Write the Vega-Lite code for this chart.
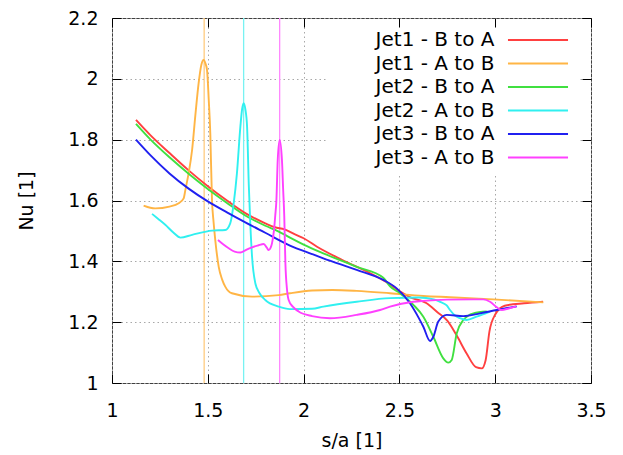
{
  "$schema": "https://vega.github.io/schema/vega-lite/v6.json",
  "width": 479,
  "height": 365,
  "autosize": {"type": "none"},
  "padding": {"left": 112, "top": 18, "right": 32, "bottom": 72},
  "background": "white",
  "config": {
    "view": {"stroke": "#404040", "strokeWidth": 1},
    "font": "DejaVu Sans"
  },
  "datasets": {
    "peaks": [
      {"sa": 1.481, "series": "Jet1 - A to B"},
      {"sa": 1.687, "series": "Jet2 - A to B"},
      {"sa": 1.875, "series": "Jet3 - A to B"}
    ],
    "curves": [
      {"series": "Jet1 - B to A", "sa": 1.125, "nu": 1.865},
      {"series": "Jet1 - B to A", "sa": 1.2, "nu": 1.815},
      {"series": "Jet1 - B to A", "sa": 1.3, "nu": 1.756},
      {"series": "Jet1 - B to A", "sa": 1.4, "nu": 1.699},
      {"series": "Jet1 - B to A", "sa": 1.5, "nu": 1.647},
      {"series": "Jet1 - B to A", "sa": 1.6, "nu": 1.6},
      {"series": "Jet1 - B to A", "sa": 1.7, "nu": 1.557},
      {"series": "Jet1 - B to A", "sa": 1.8, "nu": 1.525},
      {"series": "Jet1 - B to A", "sa": 1.85, "nu": 1.512},
      {"series": "Jet1 - B to A", "sa": 1.9, "nu": 1.505},
      {"series": "Jet1 - B to A", "sa": 1.95, "nu": 1.49},
      {"series": "Jet1 - B to A", "sa": 2.0, "nu": 1.476},
      {"series": "Jet1 - B to A", "sa": 2.07, "nu": 1.448},
      {"series": "Jet1 - B to A", "sa": 2.2, "nu": 1.405},
      {"series": "Jet1 - B to A", "sa": 2.35, "nu": 1.36},
      {"series": "Jet1 - B to A", "sa": 2.45, "nu": 1.325},
      {"series": "Jet1 - B to A", "sa": 2.5, "nu": 1.302},
      {"series": "Jet1 - B to A", "sa": 2.56, "nu": 1.281},
      {"series": "Jet1 - B to A", "sa": 2.64, "nu": 1.263},
      {"series": "Jet1 - B to A", "sa": 2.7, "nu": 1.232},
      {"series": "Jet1 - B to A", "sa": 2.75, "nu": 1.205},
      {"series": "Jet1 - B to A", "sa": 2.8, "nu": 1.155},
      {"series": "Jet1 - B to A", "sa": 2.85, "nu": 1.098},
      {"series": "Jet1 - B to A", "sa": 2.9, "nu": 1.052},
      {"series": "Jet1 - B to A", "sa": 2.93, "nu": 1.048},
      {"series": "Jet1 - B to A", "sa": 2.95, "nu": 1.075},
      {"series": "Jet1 - B to A", "sa": 2.97, "nu": 1.17},
      {"series": "Jet1 - B to A", "sa": 3.0, "nu": 1.225},
      {"series": "Jet1 - B to A", "sa": 3.05, "nu": 1.254},
      {"series": "Jet1 - B to A", "sa": 3.15, "nu": 1.262},
      {"series": "Jet1 - B to A", "sa": 3.25, "nu": 1.267},

      {"series": "Jet1 - A to B", "sa": 1.165, "nu": 1.583},
      {"series": "Jet1 - A to B", "sa": 1.2, "nu": 1.576},
      {"series": "Jet1 - A to B", "sa": 1.226, "nu": 1.574},
      {"series": "Jet1 - A to B", "sa": 1.3, "nu": 1.58},
      {"series": "Jet1 - A to B", "sa": 1.348, "nu": 1.591},
      {"series": "Jet1 - A to B", "sa": 1.374, "nu": 1.607},
      {"series": "Jet1 - A to B", "sa": 1.383, "nu": 1.635},
      {"series": "Jet1 - A to B", "sa": 1.4, "nu": 1.69},
      {"series": "Jet1 - A to B", "sa": 1.418, "nu": 1.766},
      {"series": "Jet1 - A to B", "sa": 1.435, "nu": 1.88},
      {"series": "Jet1 - A to B", "sa": 1.452, "nu": 1.985},
      {"series": "Jet1 - A to B", "sa": 1.466, "nu": 2.045},
      {"series": "Jet1 - A to B", "sa": 1.478, "nu": 2.062},
      {"series": "Jet1 - A to B", "sa": 1.488, "nu": 2.05},
      {"series": "Jet1 - A to B", "sa": 1.496, "nu": 2.029},
      {"series": "Jet1 - A to B", "sa": 1.505, "nu": 1.93},
      {"series": "Jet1 - A to B", "sa": 1.513, "nu": 1.821},
      {"series": "Jet1 - A to B", "sa": 1.522, "nu": 1.6},
      {"series": "Jet1 - A to B", "sa": 1.53, "nu": 1.53},
      {"series": "Jet1 - A to B", "sa": 1.539, "nu": 1.47},
      {"series": "Jet1 - A to B", "sa": 1.557, "nu": 1.382},
      {"series": "Jet1 - A to B", "sa": 1.575, "nu": 1.34},
      {"series": "Jet1 - A to B", "sa": 1.591, "nu": 1.317},
      {"series": "Jet1 - A to B", "sa": 1.626, "nu": 1.295},
      {"series": "Jet1 - A to B", "sa": 1.731, "nu": 1.284},
      {"series": "Jet1 - A to B", "sa": 1.87, "nu": 1.289},
      {"series": "Jet1 - A to B", "sa": 1.929, "nu": 1.295},
      {"series": "Jet1 - A to B", "sa": 2.044, "nu": 1.304},
      {"series": "Jet1 - A to B", "sa": 2.15, "nu": 1.306},
      {"series": "Jet1 - A to B", "sa": 2.277, "nu": 1.303},
      {"series": "Jet1 - A to B", "sa": 2.451, "nu": 1.295},
      {"series": "Jet1 - A to B", "sa": 2.625, "nu": 1.286},
      {"series": "Jet1 - A to B", "sa": 2.764, "nu": 1.282},
      {"series": "Jet1 - A to B", "sa": 2.99, "nu": 1.275},
      {"series": "Jet1 - A to B", "sa": 3.251, "nu": 1.265},

      {"series": "Jet2 - B to A", "sa": 1.125, "nu": 1.852},
      {"series": "Jet2 - B to A", "sa": 1.2, "nu": 1.801},
      {"series": "Jet2 - B to A", "sa": 1.3, "nu": 1.742},
      {"series": "Jet2 - B to A", "sa": 1.4, "nu": 1.688},
      {"series": "Jet2 - B to A", "sa": 1.5, "nu": 1.638},
      {"series": "Jet2 - B to A", "sa": 1.6, "nu": 1.592},
      {"series": "Jet2 - B to A", "sa": 1.7, "nu": 1.549},
      {"series": "Jet2 - B to A", "sa": 1.8, "nu": 1.517},
      {"series": "Jet2 - B to A", "sa": 1.87, "nu": 1.498},
      {"series": "Jet2 - B to A", "sa": 1.929, "nu": 1.478},
      {"series": "Jet2 - B to A", "sa": 2.0, "nu": 1.455},
      {"series": "Jet2 - B to A", "sa": 2.103, "nu": 1.426},
      {"series": "Jet2 - B to A", "sa": 2.277, "nu": 1.382},
      {"series": "Jet2 - B to A", "sa": 2.416, "nu": 1.346},
      {"series": "Jet2 - B to A", "sa": 2.451, "nu": 1.318},
      {"series": "Jet2 - B to A", "sa": 2.503, "nu": 1.295},
      {"series": "Jet2 - B to A", "sa": 2.573, "nu": 1.257},
      {"series": "Jet2 - B to A", "sa": 2.625, "nu": 1.218},
      {"series": "Jet2 - B to A", "sa": 2.677, "nu": 1.152},
      {"series": "Jet2 - B to A", "sa": 2.729, "nu": 1.081},
      {"series": "Jet2 - B to A", "sa": 2.755, "nu": 1.067},
      {"series": "Jet2 - B to A", "sa": 2.773, "nu": 1.076},
      {"series": "Jet2 - B to A", "sa": 2.799, "nu": 1.163},
      {"series": "Jet2 - B to A", "sa": 2.834, "nu": 1.207},
      {"series": "Jet2 - B to A", "sa": 2.886, "nu": 1.229},
      {"series": "Jet2 - B to A", "sa": 2.956, "nu": 1.235},

      {"series": "Jet2 - A to B", "sa": 1.209, "nu": 1.556},
      {"series": "Jet2 - A to B", "sa": 1.24, "nu": 1.54},
      {"series": "Jet2 - A to B", "sa": 1.278, "nu": 1.52},
      {"series": "Jet2 - A to B", "sa": 1.32, "nu": 1.495},
      {"series": "Jet2 - A to B", "sa": 1.357, "nu": 1.478},
      {"series": "Jet2 - A to B", "sa": 1.418, "nu": 1.487},
      {"series": "Jet2 - A to B", "sa": 1.522, "nu": 1.501},
      {"series": "Jet2 - A to B", "sa": 1.591, "nu": 1.503},
      {"series": "Jet2 - A to B", "sa": 1.617, "nu": 1.525},
      {"series": "Jet2 - A to B", "sa": 1.635, "nu": 1.59},
      {"series": "Jet2 - A to B", "sa": 1.652, "nu": 1.689},
      {"series": "Jet2 - A to B", "sa": 1.67, "nu": 1.843},
      {"series": "Jet2 - A to B", "sa": 1.679, "nu": 1.9},
      {"series": "Jet2 - A to B", "sa": 1.687, "nu": 1.92},
      {"series": "Jet2 - A to B", "sa": 1.696, "nu": 1.9},
      {"series": "Jet2 - A to B", "sa": 1.705, "nu": 1.843},
      {"series": "Jet2 - A to B", "sa": 1.714, "nu": 1.65},
      {"series": "Jet2 - A to B", "sa": 1.722, "nu": 1.52},
      {"series": "Jet2 - A to B", "sa": 1.731, "nu": 1.415},
      {"series": "Jet2 - A to B", "sa": 1.748, "nu": 1.328},
      {"series": "Jet2 - A to B", "sa": 1.77, "nu": 1.295},
      {"series": "Jet2 - A to B", "sa": 1.8, "nu": 1.273},
      {"series": "Jet2 - A to B", "sa": 1.87, "nu": 1.251},
      {"series": "Jet2 - A to B", "sa": 1.929, "nu": 1.243},
      {"series": "Jet2 - A to B", "sa": 2.044, "nu": 1.244},
      {"series": "Jet2 - A to B", "sa": 2.103, "nu": 1.251},
      {"series": "Jet2 - A to B", "sa": 2.277, "nu": 1.267},
      {"series": "Jet2 - A to B", "sa": 2.451, "nu": 1.279},
      {"series": "Jet2 - A to B", "sa": 2.6, "nu": 1.281},
      {"series": "Jet2 - A to B", "sa": 2.68, "nu": 1.275},
      {"series": "Jet2 - A to B", "sa": 2.712, "nu": 1.267},
      {"series": "Jet2 - A to B", "sa": 2.747, "nu": 1.255},
      {"series": "Jet2 - A to B", "sa": 2.764, "nu": 1.24},
      {"series": "Jet2 - A to B", "sa": 2.79, "nu": 1.222},
      {"series": "Jet2 - A to B", "sa": 2.816, "nu": 1.213},
      {"series": "Jet2 - A to B", "sa": 2.851, "nu": 1.207},
      {"series": "Jet2 - A to B", "sa": 2.903, "nu": 1.218},
      {"series": "Jet2 - A to B", "sa": 2.973, "nu": 1.235},

      {"series": "Jet3 - B to A", "sa": 1.125, "nu": 1.8},
      {"series": "Jet3 - B to A", "sa": 1.2, "nu": 1.749},
      {"series": "Jet3 - B to A", "sa": 1.3, "nu": 1.689},
      {"series": "Jet3 - B to A", "sa": 1.4, "nu": 1.639},
      {"series": "Jet3 - B to A", "sa": 1.5, "nu": 1.597},
      {"series": "Jet3 - B to A", "sa": 1.6, "nu": 1.561},
      {"series": "Jet3 - B to A", "sa": 1.696, "nu": 1.528},
      {"series": "Jet3 - B to A", "sa": 1.8, "nu": 1.494},
      {"series": "Jet3 - B to A", "sa": 1.929, "nu": 1.452},
      {"series": "Jet3 - B to A", "sa": 2.044, "nu": 1.424},
      {"series": "Jet3 - B to A", "sa": 2.103, "nu": 1.41},
      {"series": "Jet3 - B to A", "sa": 2.277, "nu": 1.372},
      {"series": "Jet3 - B to A", "sa": 2.416, "nu": 1.339},
      {"series": "Jet3 - B to A", "sa": 2.486, "nu": 1.311},
      {"series": "Jet3 - B to A", "sa": 2.555, "nu": 1.262},
      {"series": "Jet3 - B to A", "sa": 2.6, "nu": 1.215},
      {"series": "Jet3 - B to A", "sa": 2.625, "nu": 1.185},
      {"series": "Jet3 - B to A", "sa": 2.66, "nu": 1.138},
      {"series": "Jet3 - B to A", "sa": 2.677, "nu": 1.152},
      {"series": "Jet3 - B to A", "sa": 2.703, "nu": 1.202},
      {"series": "Jet3 - B to A", "sa": 2.747, "nu": 1.224},
      {"series": "Jet3 - B to A", "sa": 2.834, "nu": 1.22},
      {"series": "Jet3 - B to A", "sa": 2.921, "nu": 1.229},
      {"series": "Jet3 - B to A", "sa": 3.008, "nu": 1.24},
      {"series": "Jet3 - B to A", "sa": 3.112, "nu": 1.252},

      {"series": "Jet3 - A to B", "sa": 1.553, "nu": 1.47},
      {"series": "Jet3 - A to B", "sa": 1.58, "nu": 1.456},
      {"series": "Jet3 - A to B", "sa": 1.609, "nu": 1.443},
      {"series": "Jet3 - A to B", "sa": 1.64, "nu": 1.432},
      {"series": "Jet3 - A to B", "sa": 1.67, "nu": 1.429},
      {"series": "Jet3 - A to B", "sa": 1.7, "nu": 1.438},
      {"series": "Jet3 - A to B", "sa": 1.731, "nu": 1.446},
      {"series": "Jet3 - A to B", "sa": 1.762, "nu": 1.452},
      {"series": "Jet3 - A to B", "sa": 1.792, "nu": 1.457},
      {"series": "Jet3 - A to B", "sa": 1.808, "nu": 1.445},
      {"series": "Jet3 - A to B", "sa": 1.818, "nu": 1.437},
      {"series": "Jet3 - A to B", "sa": 1.828, "nu": 1.445},
      {"series": "Jet3 - A to B", "sa": 1.835, "nu": 1.459},
      {"series": "Jet3 - A to B", "sa": 1.845, "nu": 1.5},
      {"series": "Jet3 - A to B", "sa": 1.852, "nu": 1.55},
      {"series": "Jet3 - A to B", "sa": 1.858, "nu": 1.6},
      {"series": "Jet3 - A to B", "sa": 1.865, "nu": 1.733},
      {"series": "Jet3 - A to B", "sa": 1.875, "nu": 1.799},
      {"series": "Jet3 - A to B", "sa": 1.887, "nu": 1.733},
      {"series": "Jet3 - A to B", "sa": 1.893, "nu": 1.64},
      {"series": "Jet3 - A to B", "sa": 1.899, "nu": 1.55},
      {"series": "Jet3 - A to B", "sa": 1.905, "nu": 1.394},
      {"series": "Jet3 - A to B", "sa": 1.913, "nu": 1.31},
      {"series": "Jet3 - A to B", "sa": 1.922, "nu": 1.273},
      {"series": "Jet3 - A to B", "sa": 1.945, "nu": 1.25},
      {"series": "Jet3 - A to B", "sa": 1.974, "nu": 1.235},
      {"series": "Jet3 - A to B", "sa": 2.044, "nu": 1.22},
      {"series": "Jet3 - A to B", "sa": 2.138, "nu": 1.213},
      {"series": "Jet3 - A to B", "sa": 2.277, "nu": 1.224},
      {"series": "Jet3 - A to B", "sa": 2.399, "nu": 1.24},
      {"series": "Jet3 - A to B", "sa": 2.451, "nu": 1.251},
      {"series": "Jet3 - A to B", "sa": 2.573, "nu": 1.267},
      {"series": "Jet3 - A to B", "sa": 2.625, "nu": 1.27},
      {"series": "Jet3 - A to B", "sa": 2.747, "nu": 1.274},
      {"series": "Jet3 - A to B", "sa": 2.938, "nu": 1.275},
      {"series": "Jet3 - A to B", "sa": 2.973, "nu": 1.267},
      {"series": "Jet3 - A to B", "sa": 3.008, "nu": 1.249},
      {"series": "Jet3 - A to B", "sa": 3.034, "nu": 1.24},
      {"series": "Jet3 - A to B", "sa": 3.07, "nu": 1.245},
      {"series": "Jet3 - A to B", "sa": 3.11, "nu": 1.252}
    ]
  },
  "resolve": {
    "scale": {"color": "independent"},
    "axis": {"x": "independent", "y": "independent"}
  },
  "layer": [
    {
      "data": {"name": "peaks"},
      "mark": {"type": "rule", "strokeWidth": 1.3},
      "encoding": {
        "x": {
          "field": "sa", "type": "quantitative",
          "scale": {"domain": [1, 3.5], "nice": false, "zero": false},
          "axis": {"orient": "top", "values": [1, 1.5, 2, 2.5, 3, 3.5], "labels": false, "tickSize": -9, "tickColor": "black", "grid": false, "domain": false, "title": null, "zindex": 1}
        },
        "color": {
          "field": "series", "type": "nominal",
          "scale": {"domain": ["Jet1 - A to B", "Jet2 - A to B", "Jet3 - A to B"], "range": ["#ffcc80", "#78f2f2", "#ff88ff"]},
          "legend": null
        }
      }
    },
    {
      "data": {"name": "curves"},
      "mark": {"type": "line", "strokeWidth": 1.9, "interpolate": "monotone"},
      "encoding": {
        "x": {
          "field": "sa", "type": "quantitative",
          "scale": {"domain": [1, 3.5], "nice": false, "zero": false},
          "axis": {"orient": "bottom", "values": [1, 1.5, 2, 2.5, 3, 3.5], "format": "~g", "labelFlush": false, "labelOverlap": false, "tickSize": -9, "tickColor": "black", "labelPadding": 27, "labelFontSize": 19, "labelFont": "DejaVu Sans", "labelColor": "black", "title": "s/a [1]", "titleFontSize": 19, "titleFont": "DejaVu Sans", "titleFontWeight": "normal", "titleColor": "black", "titlePadding": 11, "grid": true, "gridDash": [1.5, 3], "gridColor": "#a8a8a8", "domain": false}
        },
        "y": {
          "field": "nu", "type": "quantitative",
          "scale": {"domain": [1, 2.2], "nice": false, "zero": false},
          "axis": {"orient": "left", "values": [1, 1.2, 1.4, 1.6, 1.8, 2, 2.2], "format": "~g", "labelFlush": false, "labelOverlap": false, "tickSize": -9, "tickColor": "black", "labelPadding": 23, "labelFontSize": 19, "labelFont": "DejaVu Sans", "labelColor": "black", "title": "Nu [1]", "titleFontSize": 19, "titleFont": "DejaVu Sans", "titleFontWeight": "normal", "titleColor": "black", "titlePadding": 31, "grid": true, "gridDash": [1.5, 3], "gridColor": "#a8a8a8", "domain": false}
        },
        "color": {
          "field": "series", "type": "nominal",
          "scale": {
            "domain": ["Jet1 - B to A", "Jet1 - A to B", "Jet2 - B to A", "Jet2 - A to B", "Jet3 - B to A", "Jet3 - A to B"],
            "range": ["#ff4040", "#ffb545", "#40e040", "#30f0f0", "#2020f0", "#ff40ff"]
          },
          "legend": {
            "title": null, "orient": "none", "legendX": 214, "legendY": 5.5,
            "symbolType": "M-3.16,0H3.16", "symbolSize": 361, "symbolStrokeWidth": 1.9,
            "labelAlign": "right", "labelOffset": -54, "symbolOffset": 195.5,
            "labelFontSize": 20, "labelFont": "DejaVu Sans", "labelColor": "black",
            "rowPadding": 2.5, "padding": 6, "fillColor": "white"
          }
        }
      }
    },
    {
      "data": {"name": "curves"},
      "mark": {"type": "line", "opacity": 0},
      "encoding": {
        "x": {"field": "sa", "type": "quantitative", "scale": {"domain": [1, 3.5], "nice": false, "zero": false}, "axis": null},
        "y": {
          "field": "nu", "type": "quantitative",
          "scale": {"domain": [1, 2.2], "nice": false, "zero": false},
          "axis": {"orient": "right", "values": [1, 1.2, 1.4, 1.6, 1.8, 2, 2.2], "labels": false, "tickSize": -9, "tickColor": "black", "grid": false, "domain": false, "title": null, "zindex": 1}
        },
        "detail": {"field": "series", "type": "nominal"}
      }
    }
  ]
}
